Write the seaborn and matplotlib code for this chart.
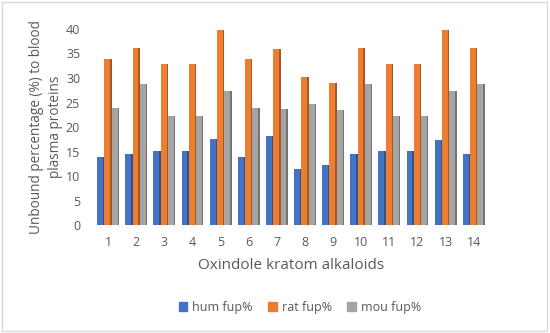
import matplotlib
matplotlib.use("Agg")
import matplotlib.pyplot as plt
import seaborn as sns
import pandas as pd
from matplotlib.patches import Rectangle

categories = [str(i) for i in range(1, 15)]
hum = [13.9, 14.5, 15.2, 15.2, 17.5, 13.9, 18.2, 11.4, 12.2, 14.6, 15.1, 15.1, 17.4, 14.6]
rat = [33.8, 36.1, 32.8, 32.8, 39.7, 33.8, 35.9, 30.2, 29.0, 36.1, 32.8, 32.8, 39.7, 36.1]
mou = [23.8, 28.8, 22.3, 22.3, 27.3, 23.8, 23.6, 24.8, 23.5, 28.8, 22.3, 22.3, 27.3, 28.8]
series_names = ["hum fup%", "rat fup%", "mou fup%"]
colors = ["#4472C4", "#ED7D31", "#A5A5A5"]

rows = []
for name, vals in zip(series_names, [hum, rat, mou]):
    for c, v in zip(categories, vals):
        rows.append({"cat": c, "series": name, "value": v})
df = pd.DataFrame(rows)

sns.set_style("white")
plt.rcParams['font.family'] = ['Open Sans', 'DejaVu Sans']

fig = plt.figure(figsize=(5.5, 3.33), dpi=100)
ax = fig.add_axes([0.171, 0.324, 0.716, 0.589])
sns.barplot(data=df, x="cat", y="value", hue="series", palette=colors,
            width=0.78, ax=ax, saturation=1, legend=False, linewidth=0)

# subtle darker right edge to hint the 3D look
for p in list(ax.patches):
    x, w, h = p.get_x(), p.get_width(), p.get_height()
    fc = p.get_facecolor()
    ax.add_patch(Rectangle((x + w * 0.8, 0), w * 0.2, h,
                           facecolor=tuple(c * 0.7 for c in fc[:3]), linewidth=0))

ax.set_ylim(0, 40)
ax.set_xlim(-0.5, 13.5)
ax.set_yticks(range(0, 41, 5))
for s in ax.spines.values():
    s.set_visible(False)
ax.tick_params(axis='both', length=0, colors="#595959", labelsize=9)
ax.tick_params(axis='x', pad=8)
ax.tick_params(axis='y', pad=10)
ax.set_xlabel("Oxindole kratom alkaloids", fontsize=11, color="#595959", labelpad=6)
ax.set_ylabel("Unbound percentage (%) to blood\nplasma proteins", fontsize=9.8,
              color="#595959", labelpad=2, linespacing=1.35)

handles = [Rectangle((0, 0), 1, 1, color=c) for c in colors]
fig.legend(handles, series_names, loc="center", bbox_to_anchor=(0.545, 0.077),
           ncol=3, frameon=False, fontsize=9, handlelength=0.7, handleheight=0.7,
           columnspacing=1.2, handletextpad=0.4, labelcolor="#595959")

fig.add_artist(Rectangle((0.004, 0.006), 0.99, 0.988, transform=fig.transFigure,
                         fill=False, edgecolor="#D9D9D9", linewidth=1))
fig.savefig("out.png", dpi=100)
